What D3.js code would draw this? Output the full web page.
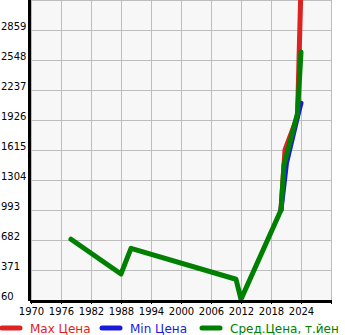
<!DOCTYPE html>
<html>
<head>
<meta charset="utf-8">
<script src="https://cdn.jsdelivr.net/npm/d3@7"></script>
<style>
  body { margin: 0; background: #fff; }
  svg { display: block; font-family: "DejaVu Sans", sans-serif; }
</style>
</head>
<body>
<div id="chart"></div>
<script>
    // values
    const yearTicks = [1970, 1976, 1982, 1988, 1994, 2000, 2006, 2012, 2018, 2024];
    const priceTicks = [60, 371, 682, 993, 1304, 1615, 1926, 2237, 2548, 2859];

    const maxYears  = [2020, 2020.8, 2023.3, 2024];
    const maxPrices = [993, 1615, 1960, 3330];

    const minYears  = [2020, 2021.1, 2023.3, 2024];
    const minPrices = [993, 1480, 1960, 2100];

    const avgYears  = [1978, 1988, 1990, 2011, 2012, 2020, 2020.6, 2023.3, 2024];
    const avgPrices = [690, 330, 596, 275, 67, 993, 1460, 1995, 2630];

    const legendNames = ["Max Цена", "Min Цена", "Сред.Цена, т.йен"];
    const colors = ["#dd2222", "#1a1add", "#008000"];

    let width = 345, height = 335;
    const plot = { left: 31, right: 331, top: 0, bottom: 300 };

    const svg = d3.select("#chart")
        .append("svg")
        .attr("width", width)
        .attr("height", height);

    const x = d3.scaleLinear().domain([1970, 2030]).range([plot.left, plot.right]);
    const y = d3.scaleLinear().domain([60, 3170]).range([plot.bottom, plot.top]);

    svg.append("rect")
        .attr("x", plot.left).attr("y", plot.top)
        .attr("width", plot.right - plot.left).attr("height", plot.bottom - plot.top)
        .attr("fill", "#f7f7f7");

    // grid
    const grid = svg.append("g").attr("stroke", "#bdbdbd").attr("stroke-width", 1);
    grid.selectAll(".vx")
        .data(d3.range(1970, 2031, 6))
        .join("line")
        .attr("x1", d => Math.round(x(d)) + 0.5).attr("x2", d => Math.round(x(d)) + 0.5)
        .attr("y1", plot.top).attr("y2", plot.bottom);
    grid.selectAll(".hy")
        .data(priceTicks.concat([3170]))
        .join("line")
        .attr("y1", d => Math.round(y(d)) + 0.5).attr("y2", d => Math.round(y(d)) + 0.5)
        .attr("x1", plot.left).attr("x2", plot.right);

    // series
    svg.append("clipPath").attr("id", "plotclip")
        .append("rect")
        .attr("x", plot.left).attr("y", plot.top)
        .attr("width", plot.right - plot.left).attr("height", plot.bottom - plot.top);

    const line = d3.line().x(d => x(d[0])).y(d => y(d[1]));
    const series = [
        d3.zip(maxYears, maxPrices),
        d3.zip(minYears, minPrices),
        d3.zip(avgYears, avgPrices)
    ];
    svg.append("g")
        .attr("clip-path", "url(#plotclip)")
        .selectAll("path")
        .data(series)
        .join("path")
        .attr("d", line)
        .attr("fill", "none")
        .attr("stroke", (d, i) => colors[i])
        .attr("stroke-width", 5)
        .attr("stroke-linejoin", "round")
        .attr("stroke-linecap", "round");

    // axes
    const xAxis = svg.append("g")
        .attr("transform", `translate(0,${plot.bottom})`)
        .call(d3.axisBottom(x).tickValues(d3.range(1970, 2031, 6)).tickSize(4)
            .tickFormat(d => yearTicks.includes(d) ? d : ""));
    xAxis.select(".domain").attr("stroke", "#000").attr("stroke-width", 3)
        .attr("d", `M${plot.left - 1},1.5H${plot.right}`);
    xAxis.selectAll(".tick line").attr("stroke", "#000");
    xAxis.selectAll(".tick text")
        .attr("font-size", 10).attr("font-family", "DejaVu Sans").attr("fill", "#000")
        .attr("y", 8);

    const yAxis = svg.append("g")
        .attr("transform", `translate(${plot.left},0)`)
        .call(d3.axisLeft(y).tickValues(priceTicks).tickSize(3).tickFormat(d => d));
    yAxis.select(".domain").attr("stroke", "#000").attr("stroke-width", 3)
        .attr("d", `M-1.5,${plot.top}V${plot.bottom + 1}`);
    yAxis.selectAll(".tick line").attr("stroke", "#000");
    yAxis.selectAll(".tick text")
        .attr("font-size", 10).attr("font-family", "DejaVu Sans").attr("fill", "#000")
        .attr("text-anchor", "start")
        .attr("x", -plot.left + 1)
        .attr("dy", "-0.1em");

    // legend
    const legend = svg.append("g").attr("transform", "translate(0,328)");
    const items = legend.selectAll("g")
        .data(legendNames)
        .join("g")
        .attr("transform", (d, i) => `translate(${i * 100},0)`);
    items.append("line")
        .attr("x1", 2).attr("x2", 20)
        .attr("stroke", (d, i) => colors[i])
        .attr("stroke-width", 5)
        .attr("stroke-linecap", "round");
    items.append("text")
        .attr("x", 30).attr("y", 5)
        .attr("font-size", 12)
        .attr("fill", (d, i) => colors[i])
        .text(d => d);
</script>
</body>
</html>
